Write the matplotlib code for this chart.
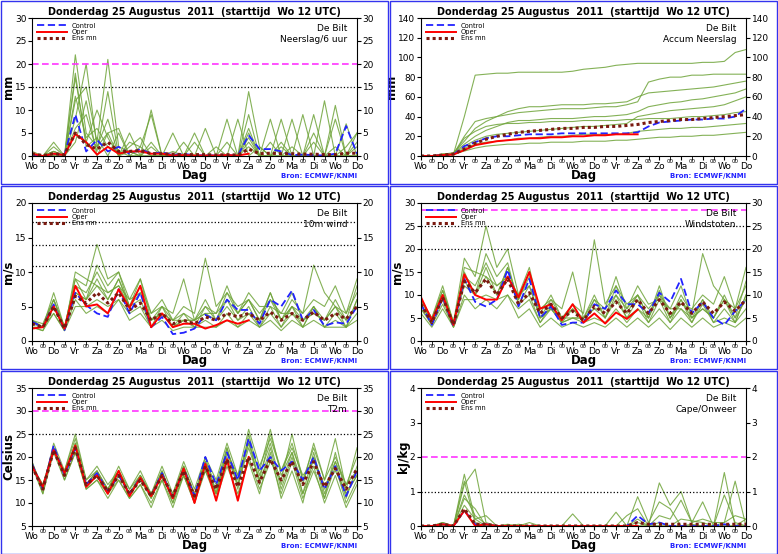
import matplotlib
matplotlib.use('Agg')
import matplotlib.pyplot as plt
from matplotlib.patches import Rectangle

days = ["Wo", "Do", "Vr", "Za", "Zo", "Ma", "Di", "Wo", "Do", "Vr", "Za", "Zo", "Ma", "Di", "Wo", "Do"]
title = "Donderdag 25 Augustus  2011  (starttijd  Wo 12 UTC)"

# ---- 6-hourly precipitation ----
prec_ctrl = [0.3,0,0.5,0.2,9,1,3.5,1,2,0.5,1.5,0.5,0.8,0.2,0.5,0.1,0.2,0.1,0.2,0.1,4.5,1.5,1.5,1,0.2,0.3,0.2,0.1,0.5,6.5,0.5]
prec_oper = [0.5,0,0.5,0.2,4.8,3,0.3,2,0.5,1,1,0.5,0.5,0.1,0.2,0.1,0.1,0.1,0.2,0.1,0.5]
prec_mean = [0.5,0.1,0.5,0.3,5,2.5,1.5,3,1,1,1.2,0.5,0.5,0.4,0.3,0.3,0.3,0.2,0.3,0.2,1.5,0.5,0.6,0.5,0.5,0.4,0.4,0.3,0.3,0.6,0.6]
prec_members = [
    [0,0,1,0,22,5,2,8,0,3,2,0,0,1,0,0,0,0,0,0,14,2,0,3,0,0,0,0,0,2,5],
    [0,0,3,0,12,15,3,21,2,1,0,10,0,0,0,0,0,0,3,0,2,0,8,0,0,9,0,12,0,7,0],
    [0,0,0,0,17,3,10,4,0,5,0,2,0,5,0,5,0,2,0,8,0,2,0,0,0,0,3,0,0,0,0],
    [0,0,1,0,8,20,2,5,6,0,2,9,0,0,0,3,0,0,0,0,9,0,0,0,8,0,0,0,11,0,2],
    [0,0,2,0,13,4,6,2,1,0,0,0,0,0,0,0,0,0,0,0,4,0,0,8,0,0,5,0,0,0,0],
    [0,0,0,0,6,9,1,14,0,2,4,0,0,0,3,0,6,0,0,0,6,0,3,0,0,0,0,0,2,0,3],
    [1,0,0,0,18,2,4,0,5,0,0,3,0,0,0,0,0,0,8,0,3,0,0,0,2,0,9,0,0,0,0],
    [0,0,1,0,3,12,0,5,0,1,0,0,0,0,0,0,0,0,0,0,5,0,0,2,0,0,0,0,8,0,5],
]

# ---- accumulated precipitation ----
acc_ctrl = [0,0,1,1.5,10,14,18,20,20,21,22,22,22,23,23,23,23,23,23,23,24,30,34,35,36,37,37,38,38,40,48]
acc_oper = [0,0,1,1.5,6,11,13,15,16,17,18,18,19,19,20,20,21,21,22,22,22]
acc_mean = [0,0,1,2,7,13,17,20,22,24,25,26,27,28,28,29,29,30,30,31,32,34,35,36,37,37,38,39,40,41,42]
acc_members = [
    [0,0,1,2,40,82,83,84,84,85,85,85,85,85,86,88,89,90,92,93,94,94,94,94,94,94,95,95,96,105,108],
    [0,0,2,3,15,28,35,40,45,48,50,50,51,52,52,52,53,53,54,55,60,64,65,66,67,68,69,70,72,74,76],
    [0,0,1,2,20,35,38,40,42,44,45,46,47,48,48,48,49,50,50,52,55,75,78,80,80,82,82,83,83,83,83],
    [0,0,1,1,8,12,14,15,16,18,18,19,20,20,21,22,22,22,22,23,25,26,27,28,28,29,29,30,31,32,33],
    [0,0,2,3,12,20,26,30,34,36,36,37,38,38,38,39,40,40,41,42,45,50,52,54,55,57,58,60,62,64,68],
    [0,0,1,2,5,8,10,11,12,12,13,13,14,14,14,15,15,15,16,16,17,18,19,19,20,20,21,21,22,23,24],
    [0,0,1,2,18,25,30,32,33,33,34,34,35,35,35,36,36,36,36,37,37,38,38,38,39,40,40,41,42,44,45],
    [0,0,1,2,10,16,20,22,23,24,25,26,27,28,29,30,30,31,32,33,40,42,44,46,47,48,49,50,52,56,60],
]

# ---- 10m wind ----
wind_ctrl = [2.8,2,5.3,1.6,7,5.2,4,3.5,7.5,4,7,2,3.5,1,1.2,1.8,3.8,3,6,4.5,4.5,2.5,6,5,7.3,3,4.5,2.2,2.7,2.5,5]
wind_oper = [1.8,2,5,1.8,8,5,5.3,4,7.5,4.8,8,2,4,2,2.5,2.5,1.8,2.3,3,2.5,3]
wind_mean = [2.5,2,5,1.8,6.5,5.5,7,5.5,7,4.5,5.5,3,4,2.5,3,2.5,3.5,3,4,3.5,4,3,4.2,3,4,3,4.2,3,4,3.2,5]
wind_members = [
    [3,2,7,2,9,8,14,9,10,6,9,4,6,3,5,4,12,5,7,4,6,3,7,3,6,4,11,7,5,4,9],
    [2,1.5,5,1.5,10,9,8,6,9,5,6,2,5,2,4,2,5,3,6,3,5,2,5,2,5,2,5,2,4,2,6],
    [3,2.5,6,2,8,7,10,7,8,6,7,3,5,4,9,3,4,4,8,4,6,3,6,3,5,4,6,5,8,4,7],
    [2,2,4,1.5,6,4,5,4,6,3,4,2,3,1.5,2,2,2,2,3,2,3,2,3,1.5,3,2,3,2,2,2,3],
    [3,2,5,2,7,6,11,8,10,5,7,3,4,3,3,3,5,4,6,4,7,5,5,4,4,3,4,3,5,3,8],
    [2.5,2,6,2,9,6,8,7,8,5,9,3,4,2,3,3,4,3,5,3,4,3,7,3,5,3,5,3,6,3,5],
    [2,1.5,4,1.5,5,5,6,5,6,4,5,2,4,2,3,2,3,2,4,2,4,2,4,2,4,2,5,2,3,2,4],
    [3,2,6,2,7,6,9,6,9,5,8,4,5,3,4,3,6,3,7,5,6,4,6,4,7,3,4,3,5,2,6],
]

# ---- wind gusts ----
gust_ctrl = [8,3.5,9.5,3.2,13.5,8.5,7.5,9,15.5,7.5,13.5,5,7.5,3.5,4,4,8,7,11,8,8,6,10.5,8.5,13.5,6,8.5,5,3.5,6.5,9]
gust_oper = [9.5,4.5,10,3.5,14.5,10,9,9,14,9.5,15,7,8,4.5,8,4,6,3.8,6.2,4.8,6.8]
gust_mean = [8,4,9.5,3.5,13,10.5,13.5,10,13.5,8,10.5,6,8,5,6.5,4.5,7.5,6,8.5,6,9,6,9,6,8.5,6,8.5,6,8.5,6.5,9]
gust_members = [
    [9,5,12,4,18,14,25,16,20,10,16,6,10,5,8,6,22,8,12,6,10,5,11,5,10,6,19,12,9,7,16],
    [7,4,9,3,16,15,14,10,16,8,10,4,8,4,7,4,9,5,10,5,9,4,9,4,9,4,9,4,7,4,10],
    [9,5,11,4,14,12,17,12,14,10,12,5,9,7,15,5,7,7,14,7,10,5,10,5,8,7,10,8,14,7,12],
    [7,3.5,8,3,10,7,9,7,10,5,7,3,5,3,4,3,4,3,5,3,5,3,5,2.5,5,3,5,3,4,3,5],
    [9,4,10,4,12,10,19,14,17,8,12,5,7,5,5,5,9,7,10,7,12,8,9,7,7,5,7,5,9,5,13],
    [8,4,10,4,15,10,14,12,14,9,15,5,7,4,5,5,7,5,9,5,7,5,12,5,9,5,9,5,10,5,9],
    [6,3,7,3,9,9,10,9,10,7,9,4,7,4,5,4,5,4,7,4,7,4,7,4,7,4,8,4,5,4,7],
    [8,4,11,4,13,10,16,10,16,9,14,7,9,5,7,5,10,5,12,8,10,7,10,7,12,5,7,5,9,4,10],
]

# ---- T2m ----
t2m_ctrl = [18.5,13,22.5,16,22,14,16.5,12.5,16,12,15.5,11.5,16.5,11,17.5,11.5,20,14,21,15,24,17,20,17,19,15,20,13,18,11.5,17]
t2m_oper = [18,13.5,21.5,16.5,22.5,13.5,16,12,17,11.5,15.5,11.5,16,11,17.5,10,18.5,10.5,19.5,10.5,20]
t2m_mean = [18,13,21.5,16,22,14,16,12.5,16,12,15,11.5,16,11.5,17,11.5,18,13,19.5,13.5,20,14.5,19.5,15,19,14,19,13.5,17.5,13,17.5]
t2m_members = [
    [18,13,22,16,23,14,17,13,17,12,16,11,17,10,18,10,19,12,22,13,25,16,23,14,21,12,21,12,19,11,18],
    [19,12,22,15,21,13,15,12,15,11,14,10,15,9,16,10,17,12,20,14,22,15,25,17,22,16,19,14,17,12,16],
    [18,14,21,17,24,15,18,14,17,13,17,12,16,12,19,13,20,15,23,16,26,18,24,17,23,15,22,15,20,14,20],
    [18,13,22,16,22,14,16,12,16,12,15,12,17,11,16,11,17,11,18,12,19,12,21,11,17,10,20,11,18,10,15],
    [18,12,21,15,21,13,15,11,15,11,14,9,15,10,16,10,18,13,21,15,24,14,22,13,20,12,18,10,16,9,14],
    [19,13,23,17,25,15,17,13,18,13,16,12,18,12,18,12,19,14,22,14,23,17,26,16,21,14,23,15,24,13,22],
    [18,13,22,16,22,14,17,12,16,12,15,11,16,11,17,11,20,12,19,11,20,13,19,15,25,15,20,13,19,14,17],
    [18,14,22,16,23,14,16,13,17,12,16,12,16,11,18,12,18,12,21,16,23,15,20,12,19,11,17,11,21,12,16],
]

# ---- CAPE ----
cape_ctrl = [0,0,0.05,0,0.45,0.05,0.05,0,0,0,0,0,0,0,0,0,0,0,0,0,0.3,0.05,0.1,0,0,0,0,0,0.05,0,0]
cape_oper = [0,0,0.05,0,0.45,0,0.05,0,0,0,0,0,0,0,0,0,0,0,0,0,0]
cape_mean = [0,0,0.05,0,0.5,0.05,0.05,0,0,0,0,0,0,0,0,0,0,0,0,0,0.1,0.05,0.05,0.05,0.05,0.05,0.05,0.05,0.05,0.05,0.05]
cape_members = [
    [0,0,0.1,0,1.5,0.2,0.3,0,0,0,0,0,0,0,0,0,0,0,0.4,0,0.85,0.1,0.7,0.5,0,0.05,0,0,1.55,0,0.2],
    [0,0,0.05,0,1.2,1.65,0.1,0,0.05,0,0.1,0,0,0,0.35,0,0,0,0,0.3,0.5,0,1.25,0.6,1,0.1,0.7,0,0.1,1.3,0],
    [0,0,0.1,0,0.9,0.3,0.05,0,0,0,0,0,0,0,0,0,0,0,0,0,0.2,0,0.3,0.2,0.75,0.1,0.2,0.1,0.1,0.3,0.2],
    [0,0,0,0,1.3,0.1,0,0,0,0,0,0,0,0,0,0,0,0,0,0,0,0,0,0,0,0,0,0,0,0,0],
    [0,0,0,0,0.8,0.5,0,0,0,0.05,0,0,0,0,0,0,0,0,0,0,0.1,0,0.1,0,0.2,0.15,0.1,0,0.9,0.1,0],
    [0,0,0.05,0,0.6,0.2,0,0,0,0,0,0,0,0,0,0,0,0,0,0,0,0,0,0,0,0,0,0,0,0,0],
]

panels = [
    # (col, row, ctrl, oper, mean, members, ylim, ystep, ylabel, name, magenta lines, dotted lines)
    (0, 0, prec_ctrl, prec_oper, prec_mean, prec_members, (0, 30), 5, "mm", "Neerslag/6 uur", [20], [15]),
    (1, 0, acc_ctrl, acc_oper, acc_mean, acc_members, (0, 140), 20, "mm", "Accum Neerslag", [], []),
    (0, 1, wind_ctrl, wind_oper, wind_mean, wind_members, (0, 20), 5, "m/s", "10m wind", [], [10.8, 13.9, 17.2]),
    (1, 1, gust_ctrl, gust_oper, gust_mean, gust_members, (0, 30), 5, "m/s", "Windstoten", [28.5], [20, 25]),
    (0, 2, t2m_ctrl, t2m_oper, t2m_mean, t2m_members, (5, 35), 5, "Celsius", "T2m", [30], [25]),
    (1, 2, cape_ctrl, cape_oper, cape_mean, cape_members, (0, 4), 1, "kJ/kg", "Cape/Onweer", [2], [1]),
]

W, H = 778, 554
fig = plt.figure(figsize=(W / 100, H / 100), dpi=100)
green = '#6fa43a'

for col, row, ctrl, oper, mean, members, ylim, ystep, ylab, name, mag, dots in panels:
    px0, py0 = col * 389, row * 185
    fig.patches.append(Rectangle((px0 / W + 0.5 / W, 1 - (py0 + 184) / H), 387 / W, 183 / H,
                                 transform=fig.transFigure, fill=False, ec='#3333ee', lw=1))
    ax = fig.add_axes([(px0 + 32) / W, 1 - (py0 + 156) / H, 325 / W, 138 / H])
    for m in members:
        ax.plot(range(len(m)), m, color=green, lw=0.8, alpha=0.85)
    for v in mag:
        ax.axhline(v, color='#ff33ff', ls=(0, (4, 2)), lw=1.2)
    for v in dots:
        ax.axhline(v, color='black', ls=':', lw=0.9)
    ax.plot(range(len(ctrl)), ctrl, color='#2222ff', ls=(0, (4, 2)), lw=1.3, label='Control')
    ax.plot(range(len(oper)), oper, color='red', lw=1.4, label='Oper')
    ax.plot(range(len(mean)), mean, color='#7a1a10', ls=(0, (1, 1)), lw=2.2, label='Ens mn')
    ax.set_xlim(0, 30)
    ax.set_ylim(*ylim)
    ax.set_yticks(range(ylim[0], ylim[1] + 1, ystep))
    ax.tick_params(labelsize=6.5, length=3, right=True, labelright=True, direction='out', pad=1)
    ax.set_xticks(range(0, 31, 2))
    ax.set_xticklabels(days, fontsize=6.5)
    ax.set_xticks(range(1, 31, 2), minor=True)
    ax.tick_params(axis='x', which='minor', length=3)
    for i in range(1, 31, 2):
        ax.text(i, -0.02, "00", transform=ax.get_xaxis_transform(), fontsize=4,
                ha='center', va='top')
    ax.set_ylabel(ylab, fontsize=8.5, fontweight='bold', labelpad=0)
    ax.set_xlabel("Dag", fontsize=8.5, fontweight='bold', labelpad=-1)
    ax.set_title(title, fontsize=7, fontweight='bold', pad=2)
    ax.text(0.97, 0.96, "De Bilt\n" + name, transform=ax.transAxes, ha='right', va='top',
            fontsize=6.5, linespacing=1.3)
    ax.legend(loc='upper left', fontsize=4.8, frameon=False, handlelength=4.5,
              borderaxespad=0.3, labelspacing=0.05)
    fig.text((px0 + 357) / W, 1 - (py0 + 176) / H, "Bron: ECMWF/KNMI", color='#2222ff',
             fontsize=5, fontweight='bold', ha='right', va='center')

fig.savefig("out.png", dpi=100)
